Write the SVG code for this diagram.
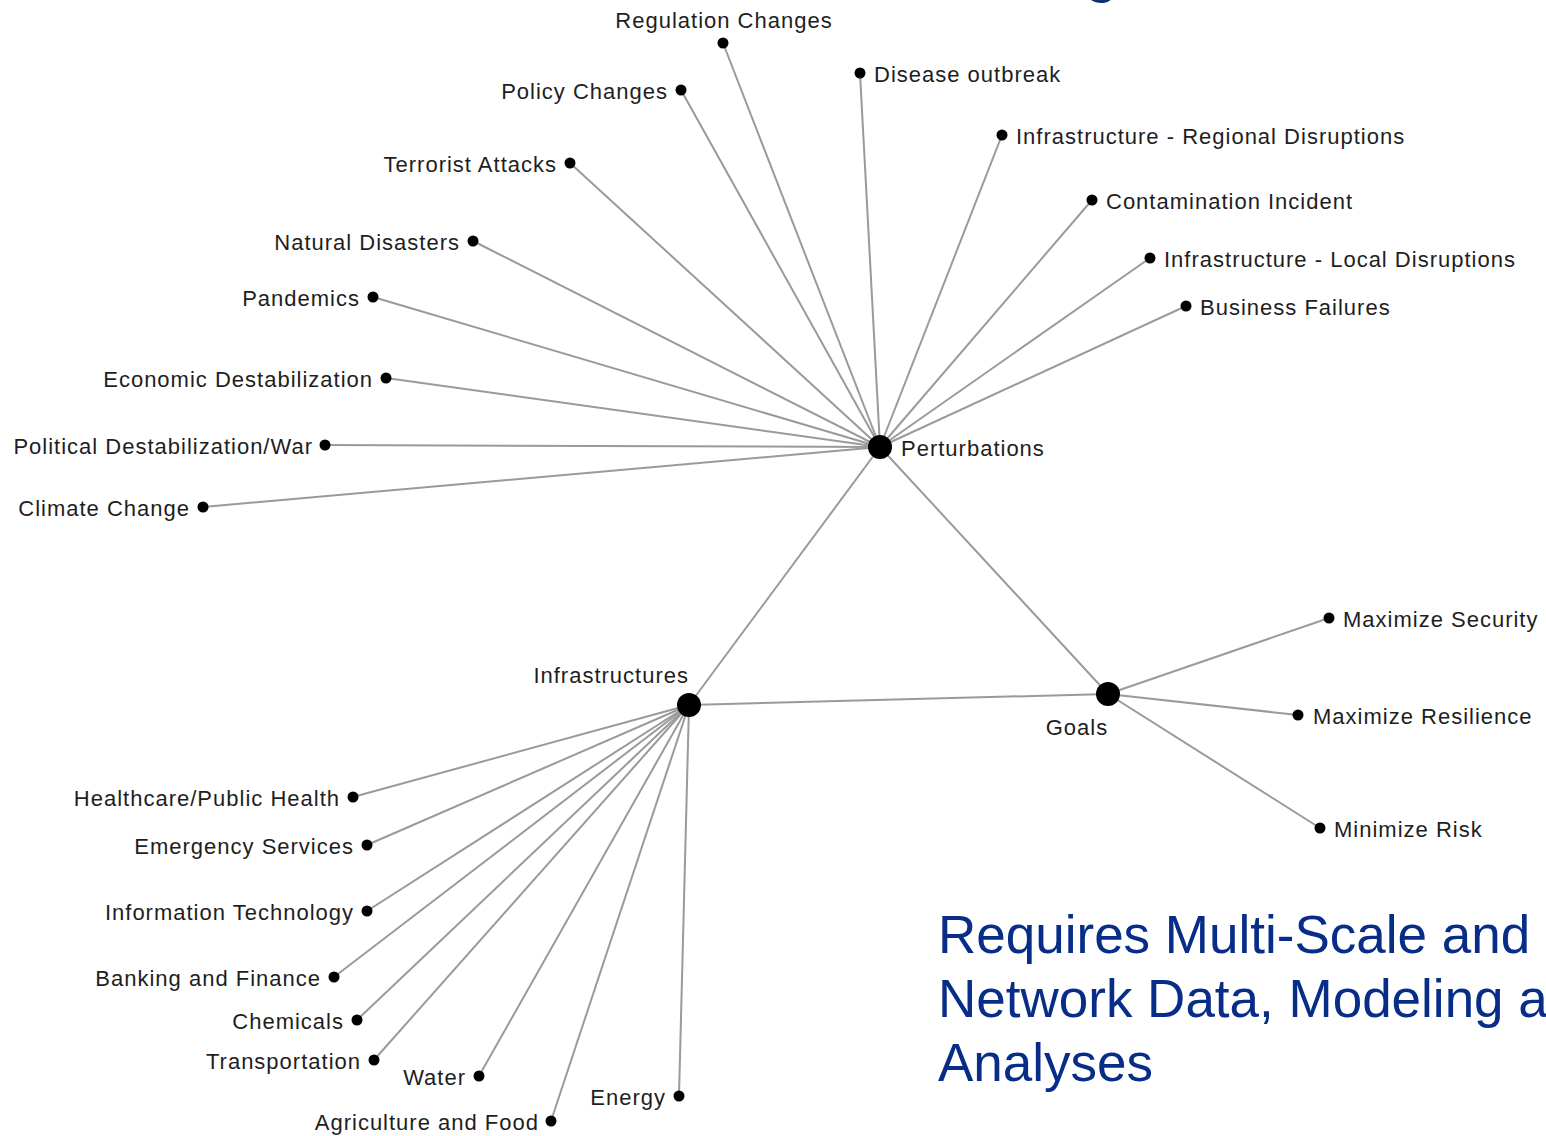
<svg xmlns="http://www.w3.org/2000/svg" width="1546" height="1136" viewBox="0 0 1546 1136">
  <style>
    .lbl { font-family: "Liberation Sans", Arial, sans-serif; font-size: 22px; letter-spacing: 1px; fill: #1e1e1e; }
    .end { text-anchor: end; }
    .mid { text-anchor: middle; }
    .leaf { fill: #000; }
    .hub { fill: #000; }
    .edges line { stroke: #9a9a9a; stroke-width: 2; }
    .note { font-family: "Liberation Sans", Arial, sans-serif; font-size: 53px; fill: #072d88; }
  </style>
  <rect width="1546" height="1136" fill="#ffffff"/>

  <!-- clipped title glyph at the top edge -->
  <text x="1084" y="-10" font-family="Liberation Sans, Arial, sans-serif" font-size="62" fill="#12306e">g</text>

  <!-- connectors -->
  <g class="edges">
    <!-- hub to hub -->
    <line x1="880" y1="447" x2="689" y2="705"/>
    <line x1="880" y1="447" x2="1108" y2="694"/>
    <line x1="689" y1="705" x2="1108" y2="694"/>
    <!-- perturbations -->
    <line x1="880" y1="447" x2="723" y2="43"/>
    <line x1="880" y1="447" x2="681" y2="90"/>
    <line x1="880" y1="447" x2="860" y2="73"/>
    <line x1="880" y1="447" x2="570" y2="163"/>
    <line x1="880" y1="447" x2="1002" y2="135"/>
    <line x1="880" y1="447" x2="1092" y2="200"/>
    <line x1="880" y1="447" x2="473" y2="241"/>
    <line x1="880" y1="447" x2="1150" y2="258"/>
    <line x1="880" y1="447" x2="1186" y2="306"/>
    <line x1="880" y1="447" x2="373" y2="297"/>
    <line x1="880" y1="447" x2="386" y2="378"/>
    <line x1="880" y1="447" x2="325" y2="445"/>
    <line x1="880" y1="447" x2="203" y2="507"/>
    <!-- goals -->
    <line x1="1108" y1="694" x2="1329" y2="618"/>
    <line x1="1108" y1="694" x2="1298" y2="715"/>
    <line x1="1108" y1="694" x2="1320" y2="828"/>
    <!-- infrastructures -->
    <line x1="689" y1="705" x2="353" y2="797"/>
    <line x1="689" y1="705" x2="367" y2="845"/>
    <line x1="689" y1="705" x2="367" y2="911"/>
    <line x1="689" y1="705" x2="334" y2="977"/>
    <line x1="689" y1="705" x2="357" y2="1020"/>
    <line x1="689" y1="705" x2="374" y2="1060"/>
    <line x1="689" y1="705" x2="479" y2="1076"/>
    <line x1="689" y1="705" x2="551" y2="1121"/>
    <line x1="689" y1="705" x2="679" y2="1096"/>
  </g>

  <!-- hubs -->
  <g id="perturbations">
    <circle class="hub" cx="880" cy="447" r="12"/>
    <text class="lbl" x="901" y="456">Perturbations</text>
  </g>
  <g id="infrastructures">
    <circle class="hub" cx="689" cy="705" r="12"/>
    <text class="lbl end" x="689" y="683">Infrastructures</text>
  </g>
  <g id="goals">
    <circle class="hub" cx="1108" cy="694" r="12"/>
    <text class="lbl mid" x="1077" y="735">Goals</text>
  </g>

  <!-- perturbation leaves -->
  <g id="regulation-changes"><circle class="leaf" cx="723" cy="43" r="5.5"/><text class="lbl mid" x="724" y="28">Regulation Changes</text></g>
  <g id="policy-changes"><circle class="leaf" cx="681" cy="90" r="5.5"/><text class="lbl end" x="668" y="99">Policy Changes</text></g>
  <g id="disease-outbreak"><circle class="leaf" cx="860" cy="73" r="5.5"/><text class="lbl" x="874" y="82">Disease outbreak</text></g>
  <g id="terrorist-attacks"><circle class="leaf" cx="570" cy="163" r="5.5"/><text class="lbl end" x="557" y="172">Terrorist Attacks</text></g>
  <g id="infra-regional"><circle class="leaf" cx="1002" cy="135" r="5.5"/><text class="lbl" x="1016" y="144">Infrastructure - Regional Disruptions</text></g>
  <g id="contamination"><circle class="leaf" cx="1092" cy="200" r="5.5"/><text class="lbl" x="1106" y="209">Contamination Incident</text></g>
  <g id="natural-disasters"><circle class="leaf" cx="473" cy="241" r="5.5"/><text class="lbl end" x="460" y="250">Natural Disasters</text></g>
  <g id="infra-local"><circle class="leaf" cx="1150" cy="258" r="5.5"/><text class="lbl" x="1164" y="267">Infrastructure - Local Disruptions</text></g>
  <g id="business-failures"><circle class="leaf" cx="1186" cy="306" r="5.5"/><text class="lbl" x="1200" y="315">Business Failures</text></g>
  <g id="pandemics"><circle class="leaf" cx="373" cy="297" r="5.5"/><text class="lbl end" x="360" y="306">Pandemics</text></g>
  <g id="economic"><circle class="leaf" cx="386" cy="378" r="5.5"/><text class="lbl end" x="373" y="387">Economic Destabilization</text></g>
  <g id="political"><circle class="leaf" cx="325" cy="445" r="5.5"/><text class="lbl end" x="313" y="454">Political Destabilization/War</text></g>
  <g id="climate"><circle class="leaf" cx="203" cy="507" r="5.5"/><text class="lbl end" x="190" y="516">Climate Change</text></g>

  <!-- goal leaves -->
  <g id="max-security"><circle class="leaf" cx="1329" cy="618" r="5.5"/><text class="lbl" x="1343" y="627">Maximize Security</text></g>
  <g id="max-resilience"><circle class="leaf" cx="1298" cy="715" r="5.5"/><text class="lbl" x="1313" y="724">Maximize Resilience</text></g>
  <g id="min-risk"><circle class="leaf" cx="1320" cy="828" r="5.5"/><text class="lbl" x="1334" y="837">Minimize Risk</text></g>

  <!-- infrastructure leaves -->
  <g id="healthcare"><circle class="leaf" cx="353" cy="797" r="5.5"/><text class="lbl end" x="340" y="806">Healthcare/Public Health</text></g>
  <g id="emergency"><circle class="leaf" cx="367" cy="845" r="5.5"/><text class="lbl end" x="354" y="854">Emergency Services</text></g>
  <g id="it"><circle class="leaf" cx="367" cy="911" r="5.5"/><text class="lbl end" x="354" y="920">Information Technology</text></g>
  <g id="banking"><circle class="leaf" cx="334" cy="977" r="5.5"/><text class="lbl end" x="321" y="986">Banking and Finance</text></g>
  <g id="chemicals"><circle class="leaf" cx="357" cy="1020" r="5.5"/><text class="lbl end" x="344" y="1029">Chemicals</text></g>
  <g id="transportation"><circle class="leaf" cx="374" cy="1060" r="5.5"/><text class="lbl end" x="361" y="1069">Transportation</text></g>
  <g id="water"><circle class="leaf" cx="479" cy="1076" r="5.5"/><text class="lbl end" x="466" y="1085">Water</text></g>
  <g id="agriculture"><circle class="leaf" cx="551" cy="1121" r="5.5"/><text class="lbl end" x="539" y="1130">Agriculture and Food</text></g>
  <g id="energy"><circle class="leaf" cx="679" cy="1096" r="5.5"/><text class="lbl end" x="666" y="1105">Energy</text></g>

  <!-- note -->
  <text class="note" x="938" y="953">Requires Multi-Scale and</text>
  <text class="note" x="938" y="1017">Network Data, Modeling and</text>
  <text class="note" x="938" y="1081">Analyses</text>
</svg>
